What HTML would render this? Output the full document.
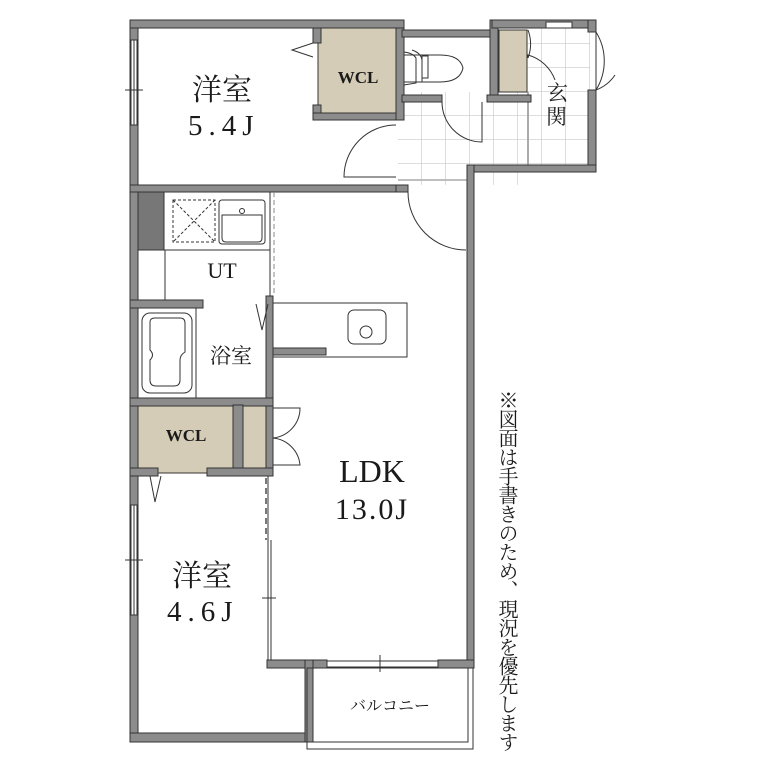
<!DOCTYPE html>
<html><head><meta charset="utf-8"><style>
html,body{margin:0;padding:0;background:#fff;}
svg{display:block}
text{font-family:"Liberation Serif","Noto Serif CJK SC",serif;fill:#1a1a1a}
</style></head><body>
<svg width="770" height="770" viewBox="0 0 770 770" xmlns="http://www.w3.org/2000/svg">
<defs>
<pattern id="tile" width="24" height="24" patternUnits="userSpaceOnUse" x="398" y="92">
<rect width="24" height="24" fill="#fff"/>
<path d="M24 0V24M0 24H24" stroke="#bbb" stroke-width="1"/>
</pattern>
</defs>
<rect x="398" y="92" width="130" height="93" fill="url(#tile)"/>
<rect x="520" y="28" width="70" height="138" fill="url(#tile)"/>
<line x1="528" y1="92" x2="528" y2="166" stroke="#aaa" stroke-width="2"/>
<line x1="398" y1="180" x2="468" y2="180" stroke="#aaa" stroke-width="1.5"/>

<g fill="#d4ccb6" stroke="#333" stroke-width="1">
<rect x="318" y="28" width="80" height="87"/>
<rect x="499" y="30" width="28" height="62"/>
<rect x="138" y="405" width="96" height="68"/>
<rect x="243" y="405" width="25" height="63"/>
</g>

<g fill="#8c8c8c" stroke="#333" stroke-width="1">
<rect x="130" y="20" width="8" height="722"/>
<rect x="130" y="20" width="274" height="8"/>
<rect x="313" y="28" width="8" height="15"/>
<rect x="313" y="105" width="8" height="15"/>
<rect x="313" y="113" width="90" height="7"/>
<rect x="396" y="28" width="8" height="92"/>
<rect x="402" y="30" width="96" height="7"/>
<rect x="490" y="20" width="8" height="82"/>
<rect x="492" y="20" width="104" height="8"/>
<rect x="588" y="20" width="8" height="12"/>
<rect x="588" y="90" width="8" height="82"/>
<rect x="467" y="165" width="129" height="7"/>
<rect x="467" y="165" width="7" height="503"/>
<rect x="402" y="95" width="40" height="7"/>
<rect x="487" y="95" width="44" height="7"/>
<rect x="130" y="185" width="270" height="7"/>
<rect x="396" y="185" width="12" height="7"/>
<rect x="138" y="192" width="26" height="58" fill="#777"/>
<rect x="130" y="300" width="73" height="8"/>
<rect x="266" y="296" width="7" height="172"/>
<rect x="130" y="398" width="143" height="8"/>
<rect x="233" y="405" width="10" height="68"/>
<rect x="130" y="468" width="28" height="8"/>
<rect x="207" y="468" width="66" height="8"/>
<rect x="273" y="348" width="53" height="7"/>
<rect x="267" y="660" width="60" height="8"/>
<rect x="438" y="660" width="36" height="8"/>
<rect x="130" y="733" width="183" height="9"/>
<rect x="305" y="660" width="8" height="82"/>
</g>

<g fill="#fff" stroke="#333" stroke-width="1">
<rect x="131" y="40" width="6" height="85"/>
<rect x="131" y="505" width="6" height="110"/>
</g>
<g fill="none" stroke="#333" stroke-width="1">
<line x1="134" y1="40" x2="134" y2="125"/>
<line x1="134" y1="505" x2="134" y2="615"/>
<line x1="125" y1="90" x2="143" y2="90"/>
<line x1="125" y1="560" x2="143" y2="560"/>
<rect x="546" y="22" width="26" height="6" fill="#fff"/>
<rect x="327" y="661" width="111" height="6" fill="#fff"/>
<line x1="380" y1="655" x2="380" y2="672"/>
<line x1="268" y1="476" x2="268" y2="660"/>
<line x1="271" y1="540" x2="271" y2="660"/>
<line x1="262" y1="598" x2="276" y2="598"/>
<line x1="266" y1="478" x2="266" y2="540" stroke-dasharray="6 4" stroke-width="2" stroke="#777"/>
<rect x="307" y="668" width="166" height="81"/>
<rect x="313" y="668" width="155" height="74"/>
<line x1="138" y1="250" x2="270" y2="250"/>
<line x1="165" y1="250" x2="165" y2="300"/>
<line x1="270" y1="192" x2="270" y2="296"/>
<line x1="274" y1="192" x2="274" y2="296" stroke-dasharray="5 3" stroke="#888"/>
<rect x="173" y="200" width="42" height="42" stroke-dasharray="3 2"/>
<path d="M173 200L215 242M215 200L173 242" stroke-dasharray="3 2"/>
<rect x="219" y="200" width="46" height="44" rx="3"/>
<path d="M222 215H262V238Q262 242 258 242H226Q222 242 222 238Z"/>
<circle cx="242" cy="211" r="2.5"/>
<line x1="196" y1="308" x2="196" y2="398"/>
<rect x="142" y="313" width="50" height="80" rx="8"/>
<path d="M150 322Q150 318 155 318H180Q185 318 185 323V352Q180 355 180 360V380Q180 386 174 386H156Q150 386 150 380V360Q155 355 150 350Z"/>
<rect x="273" y="303" width="134" height="54"/>
<rect x="348" y="310" width="38" height="34" rx="6"/>
<circle cx="366" cy="332" r="6"/>
<path d="M404 55H440Q460 55 463 68Q460 82 440 82H404"/>
<path d="M404 52Q413 53 416 58V83L404 85M412 50Q421 53 422 60V82"/>
<rect x="422" y="56" width="6" height="22"/>
<path d="M396 125A52 52 0 0 0 344 177H396"/>
<path d="M442 102A40 40 0 0 0 482 142V102"/>
<path d="M408 192A58 58 0 0 0 466 250"/>
<path d="M528 30A40 40 0 0 1 528 58L528 55A40 40 0 0 1 555 80"/>
<path d="M596 32A55 55 0 0 1 596 90M596 90A40 40 0 0 0 615 75"/>
<path d="M596 32V90"/>
<path d="M273 408H300A30 30 0 0 1 273 438A30 30 0 0 1 300 465H273"/>
<path d="M313 43L292 50L313 57"/>
<path d="M256 304L262 330L268 304"/>
<path d="M150 476L155 502L161 476"/>
</g>

<text x="192" y="100" font-size="30">洋室</text>
<text x="188" y="135" font-size="29" letter-spacing="6">5.4J</text>
<text x="358" y="83" font-size="17" text-anchor="middle" font-weight="bold">WCL</text>
<text x="186" y="441" font-size="17" text-anchor="middle" font-weight="bold">WCL</text>
<text x="547" y="100" font-size="21">玄</text>
<text x="546" y="124" font-size="21">関</text>
<text x="222" y="278" font-size="22" text-anchor="middle">UT</text>
<text x="231" y="363" font-size="21" text-anchor="middle">浴室</text>
<text x="372" y="482" font-size="32" text-anchor="middle">LDK</text>
<text x="372" y="519" font-size="30" text-anchor="middle" letter-spacing="2">13.0J</text>
<text x="172" y="586" font-size="30">洋室</text>
<text x="167" y="621" font-size="29" letter-spacing="6">4.6J</text>
<text x="390" y="711" font-size="16" text-anchor="middle">バルコニー</text>
<text x="506" y="390" font-size="20" style="writing-mode:vertical-rl" letter-spacing="-1">※図面は手書きのため、現況を優先します</text>
</svg>
</body></html>
